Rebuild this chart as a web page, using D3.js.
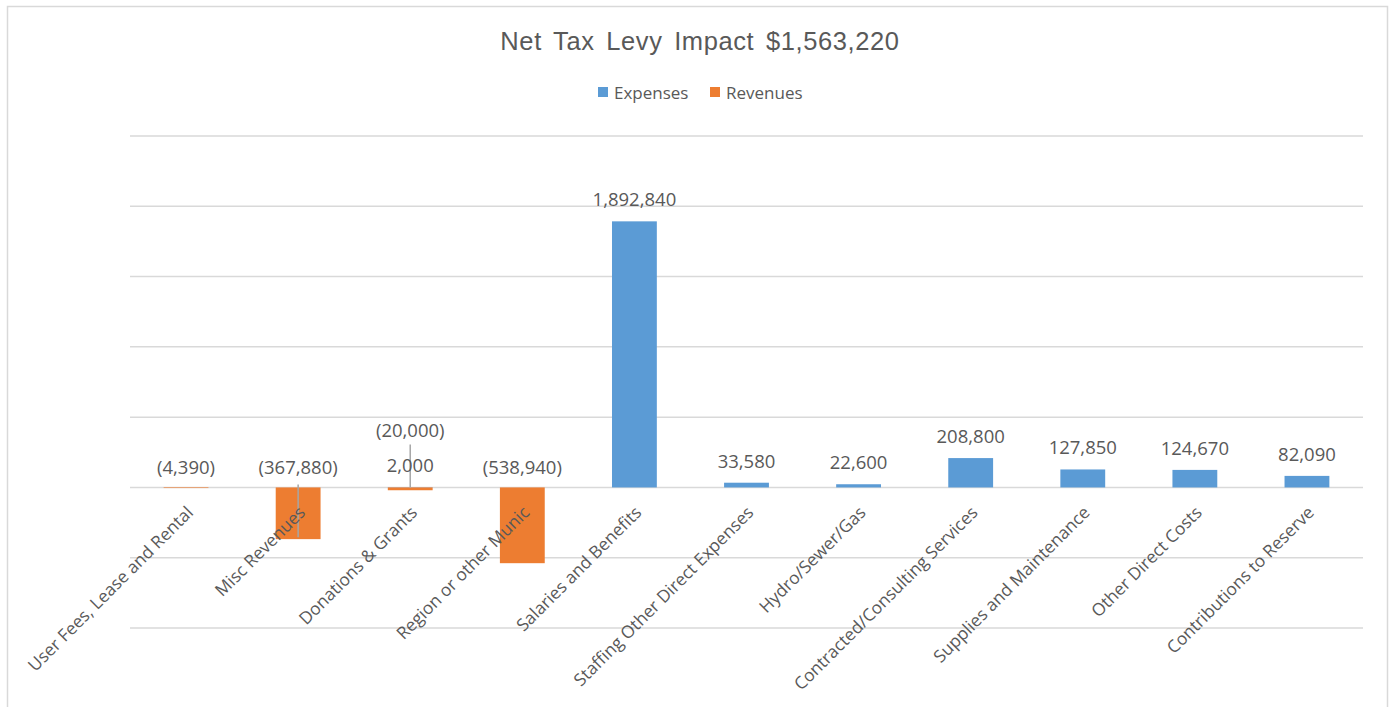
<!DOCTYPE html>
<html>
<head>
<meta charset="utf-8">
<script src="https://cdn.jsdelivr.net/npm/d3@7"></script>
<style>
  html, body { margin: 0; padding: 0; background: #fff; }
  svg { display: block; }
</style>
</head>
<body>
<svg id="chart" width="1393" height="707"></svg>
<script>
const title = "Net Tax Levy Impact $1,563,220";
const categories = [
  "User Fees, Lease and Rental",
  "Misc Revenues",
  "Donations & Grants",
  "Region or other Munic",
  "Salaries and Benefits",
  "Staffing Other Direct Expenses",
  "Hydro/Sewer/Gas",
  "Contracted/Consulting Services",
  "Supplies and Maintenance",
  "Other Direct Costs",
  "Contributions to Reserve"
];
const expenses = [null, null, 2000, null, 1892840, 33580, 22600, 208800, 127850, 124670, 82090];
const revenues = [-4390, -367880, -20000, -538940, null, null, null, null, null, null, null];
const seriesNames = ["Expenses", "Revenues"];
const yTicks = [-1000000, -500000, 0, 500000, 1000000, 1500000, 2000000, 2500000];
const leaderCats = ["Misc Revenues", "Donations & Grants"];

const colors = { Expenses: "#5B9BD5", Revenues: "#ED7D31" };
const textColor = "#595959";
const gridColor = "#D9D9D9";

const svg = d3.select("#chart");

// chart border
svg.append("rect")
  .attr("x", 7.5).attr("y", 6.5).attr("width", 1380).attr("height", 720)
  .attr("fill", "#fff").attr("stroke", "#D9D9D9").attr("stroke-width", 1.5);

const plot = { left: 130, right: 1363, top: 136, bottom: 628 };

const x = d3.scaleBand().domain(categories).range([plot.left, plot.right]).paddingInner(0.6).paddingOuter(0.3);
const y = d3.scaleLinear().domain([-1000000, 2500000]).range([plot.bottom, plot.top]);

// gridlines
svg.append("g").selectAll("line").data(yTicks).join("line")
  .attr("x1", plot.left).attr("x2", plot.right)
  .attr("y1", d => y(d)).attr("y2", d => y(d))
  .attr("stroke", gridColor).attr("stroke-width", 1.5);

const fmt = v => {
  const s = d3.format(",")(Math.abs(v));
  return v < 0 ? "(" + s + ")" : s;
};

const expData = categories.map((c, i) => ({ c, v: expenses[i] })).filter(d => d.v !== null);
const revData = categories.map((c, i) => ({ c, v: revenues[i] })).filter(d => d.v !== null);

const barG = svg.append("g");
barG.selectAll("rect.exp").data(expData).join("rect").attr("class", "exp")
  .attr("x", d => x(d.c)).attr("width", x.bandwidth())
  .attr("y", d => y(Math.max(0, d.v))).attr("height", d => Math.abs(y(d.v) - y(0)))
  .attr("fill", colors.Expenses);
barG.selectAll("rect.rev").data(revData).join("rect").attr("class", "rev")
  .attr("x", d => x(d.c)).attr("width", x.bandwidth())
  .attr("y", d => y(Math.max(0, d.v))).attr("height", d => Math.abs(y(d.v) - y(0)))
  .attr("fill", colors.Revenues);

// leader lines
const cx = c => x(c) + x.bandwidth() / 2;
leaderCats.forEach(c => {
  const i = categories.indexOf(c);
  const hasBoth = expenses[i] !== null && revenues[i] !== null;
  const y1 = hasBoth ? y(0) - 43 : y(0) - 3;
  const y2 = hasBoth ? y(0) : y(revenues[i]) - 2;
  svg.append("line").attr("x1", cx(c)).attr("x2", cx(c)).attr("y1", y1).attr("y2", y2)
    .attr("stroke", "#A6A6A6").attr("stroke-width", 1.5);
});

// data labels
const lblFont = "'Open Sans', 'Noto Sans', sans-serif";
const lblG = svg.append("g").attr("font-family", lblFont).attr("font-size", 18.5).attr("fill", textColor).attr("text-anchor", "middle");
lblG.selectAll("text.exp").data(expData).join("text").attr("class", "exp")
  .attr("x", d => cx(d.c)).attr("y", d => y(Math.max(0, d.v)) - 15)
  .text(d => fmt(d.v));
lblG.selectAll("text.rev").data(revData).join("text").attr("class", "rev")
  .attr("x", d => cx(d.c))
  .attr("y", d => {
    const i = categories.indexOf(d.c);
    return expenses[i] !== null ? y(0) - 50 : y(0) - 13;
  })
  .text(d => fmt(d.v));

// category labels
const catG = svg.append("g").attr("font-family", lblFont).attr("font-size", 17.3).attr("fill", textColor);
catG.selectAll("text").data(categories).join("text")
  .attr("transform", c => `translate(${cx(c) - 1},${y(0) + 17}) rotate(-45)`)
  .attr("text-anchor", "end").attr("dy", "0.75em")
  .text(c => c);

// title
svg.append("text").attr("x", 700).attr("y", 50).attr("text-anchor", "middle")
  .attr("font-family", "'Liberation Sans', Arial, sans-serif").attr("font-size", 25.5)
  .attr("letter-spacing", 0.6).attr("word-spacing", 4)
  .attr("fill", textColor).text(title);

// legend
const legX = [598, 710];
const leg = svg.append("g").attr("font-family", lblFont).attr("font-size", 17).attr("fill", textColor);
seriesNames.forEach((s, i) => {
  leg.append("rect").attr("x", legX[i]).attr("y", 87).attr("width", 10).attr("height", 10).attr("fill", colors[s]);
  leg.append("text").attr("x", legX[i] + 16).attr("y", 98.5).text(s);
});
</script>
</body>
</html>
